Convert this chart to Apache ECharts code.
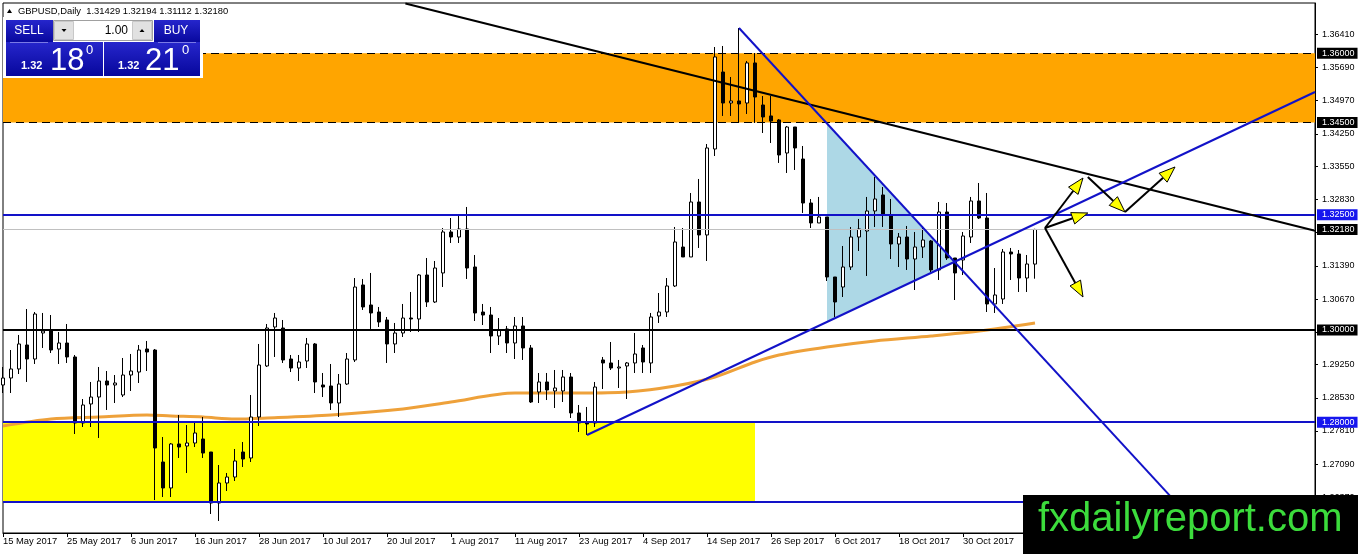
<!DOCTYPE html>
<html>
<head>
<meta charset="utf-8">
<title>GBPUSD Daily</title>
<script src="https://cdn.jsdelivr.net/npm/echarts@6.0.0/dist/echarts.min.js"></script>
<style>
  html, body { margin: 0; padding: 0; background: #fff; }
  #main { width: 1358px; height: 554px; }
</style>
</head>
<body>
<div id="main"></div>
<script>
// bottom axis labels, one every 8 daily bars
var xTickLabels = ['15 May 2017', '25 May 2017', '6 Jun 2017', '16 Jun 2017', '28 Jun 2017', '10 Jul 2017',
  '20 Jul 2017', '1 Aug 2017', '11 Aug 2017', '23 Aug 2017', '4 Sep 2017', '14 Sep 2017',
  '26 Sep 2017', '6 Oct 2017', '18 Oct 2017', '30 Oct 2017'];

// right axis tick labels
var yTicks = [1.3641, 1.3569, 1.3497, 1.3425, 1.3355, 1.3283, 1.3211, 1.3139,
  1.3067, 1.2995, 1.2925, 1.2853, 1.2781, 1.2709, 1.2637];

// daily bars, 15 May 2017 .. 10 Nov 2017
var open = [
  1.28808, 1.28959, 1.29155, 1.29675, 1.29371, 1.29935, 1.30000, 1.29588, 1.29718, 1.29415,
  1.27984, 1.28396, 1.28547, 1.28894, 1.28808, 1.28591, 1.29024, 1.29089, 1.29588, 1.29566,
  1.27138, 1.26575, 1.27529, 1.27485, 1.27550, 1.27637, 1.27355, 1.26249, 1.26683, 1.26813,
  1.27355, 1.27225, 1.28114, 1.29220, 1.30065, 1.30043, 1.29371, 1.29176, 1.29328, 1.29697,
  1.28808, 1.28786, 1.28417, 1.28829, 1.29350, 1.30976, 1.30542, 1.30390, 1.30217, 1.29697,
  1.29935, 1.30260, 1.30239, 1.31192, 1.30607, 1.31236, 1.32125, 1.32016, 1.32190, 1.31366,
  1.30390, 1.30325, 1.29870, 1.30022, 1.29718, 1.30087, 1.29610, 1.28656, 1.28873, 1.28678,
  1.28678, 1.28981, 1.28201, 1.27984, 1.27984, 1.29350, 1.29285, 1.29176, 1.29220, 1.29285,
  1.29610, 1.29285, 1.30304, 1.30390, 1.30954, 1.31799, 1.31583, 1.32775, 1.32060, 1.33924,
  1.35593, 1.34921, 1.34965, 1.34921, 1.35789, 1.34878, 1.34640, 1.34553, 1.33837, 1.34401,
  1.33707, 1.32753, 1.32320, 1.32450, 1.31149, 1.30932, 1.31366, 1.32016, 1.32146, 1.32580,
  1.32927, 1.32472, 1.31864, 1.32016, 1.31539, 1.31799, 1.31930, 1.31301, 1.32558, 1.31561,
  1.31518, 1.32016, 1.32797, 1.32428, 1.30564, 1.30672, 1.31691, 1.31648, 1.31127, 1.31429];
var high = [
  1.29198, 1.29566, 1.29892, 1.30455, 1.30390, 1.30369, 1.30325, 1.29957, 1.30130, 1.29458,
  1.28504, 1.28873, 1.29198, 1.29111, 1.29024, 1.29393, 1.29480, 1.29675, 1.29762, 1.29588,
  1.27680, 1.27550, 1.28157, 1.27940, 1.27984, 1.28114, 1.27355, 1.27073, 1.26900, 1.27420,
  1.27572, 1.28591, 1.29697, 1.30130, 1.30369, 1.30217, 1.29458, 1.29458, 1.29827, 1.29718,
  1.29068, 1.29263, 1.29046, 1.29501, 1.31127, 1.31106, 1.31236, 1.30499, 1.30282, 1.30152,
  1.30564, 1.30824, 1.31214, 1.31561, 1.31496, 1.32211, 1.32428, 1.32472, 1.32667, 1.31626,
  1.30564, 1.30499, 1.30260, 1.30087, 1.30282, 1.30282, 1.29675, 1.29068, 1.29068, 1.29133,
  1.29133, 1.29068, 1.28374, 1.28331, 1.28873, 1.29415, 1.29740, 1.29350, 1.29306, 1.29935,
  1.29675, 1.30369, 1.30802, 1.31127, 1.32233, 1.32211, 1.32970, 1.33274, 1.34032, 1.36135,
  1.36157, 1.35485, 1.36547, 1.35832, 1.36005, 1.35073, 1.35073, 1.34574, 1.34423, 1.34401,
  1.33989, 1.32840, 1.32884, 1.32450, 1.31149, 1.31821, 1.32233, 1.32407, 1.32884, 1.33317,
  1.33100, 1.32840, 1.32103, 1.32255, 1.32125, 1.32233, 1.31951, 1.32775, 1.32753, 1.31561,
  1.32125, 1.32884, 1.33187, 1.32970, 1.31344, 1.31756, 1.31778, 1.31734, 1.31626, 1.32194];
var low = [
  1.28634, 1.28634, 1.29046, 1.28873, 1.29263, 1.29610, 1.29501, 1.29263, 1.29285, 1.27745,
  1.27897, 1.27897, 1.27659, 1.28266, 1.28417, 1.28547, 1.28678, 1.28851, 1.29111, 1.26314,
  1.26379, 1.26379, 1.27225, 1.26900, 1.27463, 1.27225, 1.26011, 1.25859, 1.26510, 1.26726,
  1.27030, 1.27138, 1.27919, 1.29198, 1.29415, 1.29285, 1.29089, 1.28894, 1.29176, 1.28634,
  1.28547, 1.28266, 1.28114, 1.28808, 1.29306, 1.30434, 1.30022, 1.30065, 1.29285, 1.29501,
  1.29848, 1.29957, 1.29957, 1.30499, 1.30585, 1.30932, 1.31886, 1.31886, 1.31106, 1.30195,
  1.30108, 1.29501, 1.29675, 1.29501, 1.29371, 1.29350, 1.28417, 1.28417, 1.28482, 1.28309,
  1.28439, 1.28092, 1.27789, 1.27724, 1.27897, 1.28721, 1.29133, 1.28743, 1.28504, 1.29068,
  1.29068, 1.29068, 1.30152, 1.30282, 1.30932, 1.31583, 1.31583, 1.31778, 1.31496, 1.33772,
  1.34640, 1.34640, 1.34488, 1.34683, 1.34488, 1.34271, 1.34054, 1.33621, 1.33404, 1.33469,
  1.32537, 1.32211, 1.32320, 1.31062, 1.30282, 1.30715, 1.31301, 1.31713, 1.31171, 1.32233,
  1.32233, 1.31539, 1.31366, 1.31301, 1.30867, 1.31561, 1.31257, 1.31084, 1.31518, 1.30650,
  1.31192, 1.31886, 1.32407, 1.30390, 1.30369, 1.30564, 1.31084, 1.30824, 1.30824, 1.31112];
var close = [
  1.28959, 1.29155, 1.29697, 1.29371, 1.30347, 1.29978, 1.29566, 1.29718, 1.29415, 1.27984,
  1.28374, 1.28547, 1.28894, 1.28808, 1.28851, 1.29024, 1.29111, 1.29566, 1.29523, 1.27442,
  1.26575, 1.27529, 1.27463, 1.27550, 1.27767, 1.27333, 1.26249, 1.26683, 1.26813, 1.27160,
  1.27203, 1.28114, 1.29241, 1.30043, 1.30260, 1.29350, 1.29176, 1.29306, 1.29697, 1.28873,
  1.28764, 1.28417, 1.28829, 1.29371, 1.30932, 1.30499, 1.30369, 1.30173, 1.29697, 1.29935,
  1.30260, 1.30239, 1.31192, 1.30607, 1.31344, 1.32125, 1.32016, 1.32190, 1.31344, 1.30369,
  1.30325, 1.29870, 1.30000, 1.29718, 1.30087, 1.29610, 1.28439, 1.28873, 1.28699, 1.28743,
  1.28981, 1.28201, 1.27984, 1.27962, 1.28764, 1.29285, 1.29176, 1.29198, 1.29285, 1.29480,
  1.29306, 1.30282, 1.30390, 1.30954, 1.31908, 1.31583, 1.32775, 1.32060, 1.33946, 1.35919,
  1.34921, 1.34965, 1.34900, 1.35789, 1.35051, 1.34618, 1.34531, 1.33794, 1.34401, 1.33946,
  1.32753, 1.32320, 1.32450, 1.31149, 1.30607, 1.31366, 1.32016, 1.32190, 1.32580, 1.32840,
  1.32515, 1.31864, 1.32016, 1.31539, 1.31799, 1.31951, 1.31301, 1.32558, 1.31561, 1.31236,
  1.32038, 1.32797, 1.32428, 1.30564, 1.30759, 1.31691, 1.31648, 1.31127, 1.31431, 1.32180];

// moving average: [bar index, price]
var maPoints = [[0, 1.27919], [6, 1.28070], [12, 1.28114], [18, 1.28157], [21, 1.28136],
  [25, 1.28114], [29, 1.28070], [33, 1.28092], [41, 1.28157], [50, 1.28287], [56, 1.28439],
  [64, 1.28634], [72, 1.28634], [78, 1.28656], [84, 1.28786], [89, 1.28981], [94, 1.29306],
  [97, 1.29458], [103, 1.29631], [109, 1.29762], [116, 1.29870], [122, 1.29978], [129, 1.30152]];

// zones and trend lines, [bar index, price]
var orangeZone = [1.345, 1.36];
var yellowZone = [[0, 1.28], [94, 1.2627]];
var blackTrend = [[50.3, 1.3708], [164, 1.3215]];
var blueRising = [[73, 1.27724], [164, 1.3516]];
var blueFalling = [[92, 1.36547], [150, 1.2563]];
var triangle = [[103, 1.3448], [103, 1.3019], [118.9, 1.3148]];
// scenario arrows: [from index, from price, to index, to price]
var arrows = [
  [130.25, 1.32211, 135.0, 1.33295],
  [130.25, 1.32211, 135.6, 1.32537],
  [130.25, 1.32211, 135.0, 1.30715],
  [135.6, 1.33317, 140.25, 1.32558],
  [140.25, 1.32558, 146.5, 1.33534]
];

var FONT = '"Liberation Sans", Arial, sans-serif';
var BLUE = '#1212C8';

var candles = open.map(function (o, i) {
  return [i, o, close[i], low[i], high[i]];
});

function boxLabel(text, bg) {
  return {
    show: true, position: 'end', distance: 2, formatter: text,
    backgroundColor: bg, color: '#fff', fontSize: 9, fontFamily: FONT,
    padding: [1, 3, 1, 5]
  };
}
function hLine(value, color, width, type, labelBg) {
  return {
    yAxis: value,
    lineStyle: { color: color, width: width, type: type },
    label: labelBg ? boxLabel(value.toFixed(5), labelBg) : { show: false }
  };
}
function trend(pts, color) {
  return [
    { coord: pts[0], lineStyle: { color: color, width: 2, type: 'solid' }, label: { show: false } },
    { coord: pts[1] }
  ];
}

var myChart = echarts.init(document.getElementById('main'));

var blueGrad = new echarts.graphic.LinearGradient(0, 0, 0, 1, [
  { offset: 0, color: '#2626CC' }, { offset: 1, color: '#07079C' }
]);

myChart.setOption({
  animation: false,
  backgroundColor: '#fff',
  grid: {
    left: 3, right: 43, top: 3, bottom: 21,
    show: true, borderColor: '#000', borderWidth: 1, backgroundColor: '#fff'
  },
  xAxis: {
    type: 'value', min: 0, max: 164, interval: 8,
    splitLine: { show: false },
    axisLine: { show: true, onZero: false, lineStyle: { color: '#000' } },
    axisTick: { show: true, length: 4, lineStyle: { color: '#000' } },
    axisLabel: {
      align: 'left', margin: 4, color: '#000', fontSize: 9.4, fontFamily: FONT,
      formatter: function (v) { return xTickLabels[v / 8] || ''; }
    }
  },
  yAxis: {
    type: 'value', position: 'right', min: 1.25599, max: 1.37089,
    splitLine: { show: false },
    axisLine: { show: true, onZero: false, lineStyle: { color: '#000' } },
    axisTick: { show: true, length: 3, customValues: yTicks, lineStyle: { color: '#000' } },
    axisLabel: {
      customValues: yTicks, margin: 7, color: '#000', fontSize: 9, fontFamily: FONT,
      formatter: function (v) { return v.toFixed(5); }
    }
  },
  series: [
    {
      // shaded triangle between the two blue lines
      type: 'custom', z: 1, silent: true,
      data: [triangle[0]],
      renderItem: function (params, api) {
        return {
          type: 'polygon',
          shape: { points: triangle.map(function (p) { return api.coord(p); }) },
          style: { fill: '#ADD8E6' }
        };
      }
    },
    {
      type: 'line', z: 2, silent: true,
      data: maPoints, showSymbol: false, smooth: 0.3,
      lineStyle: { color: '#EEA13A', width: 3 }
    },
    {
      name: 'GBPUSD', type: 'candlestick', z: 3,
      data: candles,
      encode: { x: 0, y: [1, 2, 3, 4] },
      barWidth: 4,
      itemStyle: { color: '#fff', color0: '#000', borderColor: '#000', borderColor0: '#000', borderWidth: 1 },
      markArea: {
        silent: true,
        data: [
          [{ yAxis: orangeZone[0], itemStyle: { color: '#FFA500', opacity: 1 } }, { yAxis: orangeZone[1] }],
          [{ coord: yellowZone[0], itemStyle: { color: '#FFFF00', opacity: 1 } }, { coord: yellowZone[1] }]
        ]
      },
      markLine: {
        silent: true, symbol: ['none', 'none'], animation: false, precision: 5,
        data: [
          hLine(1.36, '#000', 1, [8, 5], '#000'),
          hLine(1.345, '#000', 1, [8, 5], '#000'),
          hLine(1.3218, '#C0C0C0', 1, 'solid', '#000'),
          hLine(1.325, BLUE, 2, 'solid', '#1616EE'),
          hLine(1.30, '#000', 2, 'solid', '#000'),
          hLine(1.28, BLUE, 2, 'solid', '#1616EE'),
          hLine(1.2627, BLUE, 2, 'solid', null),
          trend(blackTrend, '#000'),
          trend(blueRising, BLUE),
          trend(blueFalling, BLUE)
        ]
      }
    },
    {
      type: 'custom', z: 6, silent: true,
      data: arrows,
      encode: { x: [0, 2], y: [1, 3] },
      renderItem: function (params, api) {
        var a = api.coord([api.value(0), api.value(1)]);
        var b = api.coord([api.value(2), api.value(3)]);
        var dx = b[0] - a[0], dy = b[1] - a[1];
        var len = Math.sqrt(dx * dx + dy * dy);
        var ux = dx / len, uy = dy / len;
        var hl = 16, hw = 6;
        var bx = b[0] - ux * hl, by = b[1] - uy * hl;
        return {
          type: 'group',
          children: [
            { type: 'line', shape: { x1: a[0], y1: a[1], x2: bx, y2: by }, style: { stroke: '#000', lineWidth: 2 } },
            {
              type: 'polygon',
              shape: { points: [[b[0], b[1]], [bx - uy * hw, by + ux * hw], [bx + uy * hw, by - ux * hw]] },
              style: { fill: '#FFFF00', stroke: '#000', lineWidth: 1 }
            }
          ]
        };
      }
    }
  ],
  graphic: [
    // symbol header
    { type: 'polygon', z: 100, shape: { points: [[7, 13], [9.5, 9], [12, 13]] }, style: { fill: '#000' } },
    { type: 'text', z: 100, x: 18, y: 11, style: { text: 'GBPUSD,Daily  1.31429 1.32194 1.31112 1.32180', fill: '#000', font: '9.4px ' + FONT, verticalAlign: 'middle' } },
    // one-click trading panel
    { type: 'rect', z: 100, shape: { x: 3, y: 17, width: 200, height: 61 }, style: { fill: '#fff' } },
    { type: 'rect', z: 100, shape: { x: 6, y: 20, width: 47, height: 23 }, style: { fill: blueGrad } },
    { type: 'rect', z: 100, shape: { x: 6, y: 42, width: 97, height: 34 }, style: { fill: blueGrad } },
    { type: 'rect', z: 100, shape: { x: 154, y: 20, width: 46, height: 23 }, style: { fill: blueGrad } },
    { type: 'rect', z: 100, shape: { x: 104, y: 42, width: 96, height: 34 }, style: { fill: blueGrad } },
    { type: 'rect', z: 100, shape: { x: 53.5, y: 20.5, width: 99, height: 20 }, style: { fill: '#fff', stroke: '#A0A0A0' } },
    { type: 'rect', z: 100, shape: { x: 54.5, y: 21.5, width: 19, height: 18 }, style: { fill: '#E1E1E1', stroke: '#C8C8C8' } },
    { type: 'rect', z: 100, shape: { x: 132.5, y: 21.5, width: 19, height: 18 }, style: { fill: '#E1E1E1', stroke: '#C8C8C8' } },
    { type: 'polygon', z: 100, shape: { points: [[61.5, 29], [66.5, 29], [64, 32]] }, style: { fill: '#000' } },
    { type: 'polygon', z: 100, shape: { points: [[139.5, 32], [144.5, 32], [142, 29]] }, style: { fill: '#000' } },
    { type: 'text', z: 100, x: 128, y: 31, style: { text: '1.00', fill: '#000', font: '12px ' + FONT, align: 'right', verticalAlign: 'middle' } },
    { type: 'line', z: 100, shape: { x1: 10, y1: 42.5, x2: 48, y2: 42.5 }, style: { stroke: '#7A7AE6', lineWidth: 1 } },
    { type: 'line', z: 100, shape: { x1: 158, y1: 42.5, x2: 196, y2: 42.5 }, style: { stroke: '#7A7AE6', lineWidth: 1 } },
    { type: 'text', z: 100, x: 29, y: 31, style: { text: 'SELL', fill: '#fff', font: '12px ' + FONT, align: 'center', verticalAlign: 'middle' } },
    { type: 'text', z: 100, x: 176, y: 31, style: { text: 'BUY', fill: '#fff', font: '12px ' + FONT, align: 'center', verticalAlign: 'middle' } },
    { type: 'text', z: 100, x: 21, y: 66, style: { text: '1.32', fill: '#fff', font: 'bold 11px ' + FONT, verticalAlign: 'middle' } },
    { type: 'text', z: 100, x: 50, y: 61, style: { text: '18', fill: '#fff', font: '31px ' + FONT, verticalAlign: 'middle' } },
    { type: 'text', z: 100, x: 86, y: 50, style: { text: '0', fill: '#fff', font: '13px ' + FONT, verticalAlign: 'middle' } },
    { type: 'text', z: 100, x: 118, y: 66, style: { text: '1.32', fill: '#fff', font: 'bold 11px ' + FONT, verticalAlign: 'middle' } },
    { type: 'text', z: 100, x: 145, y: 61, style: { text: '21', fill: '#fff', font: '31px ' + FONT, verticalAlign: 'middle' } },
    { type: 'text', z: 100, x: 182, y: 50, style: { text: '0', fill: '#fff', font: '13px ' + FONT, verticalAlign: 'middle' } },
    // watermark
    { type: 'rect', z: 100, shape: { x: 1023, y: 495, width: 335, height: 59 }, style: { fill: '#000' } },
    { type: 'text', z: 101, x: 1038, y: 520, style: { text: 'fxdailyreport.com', fill: '#3CDC3C', font: '40px ' + FONT, verticalAlign: 'middle' } }
  ]
});
</script>
</body>
</html>
